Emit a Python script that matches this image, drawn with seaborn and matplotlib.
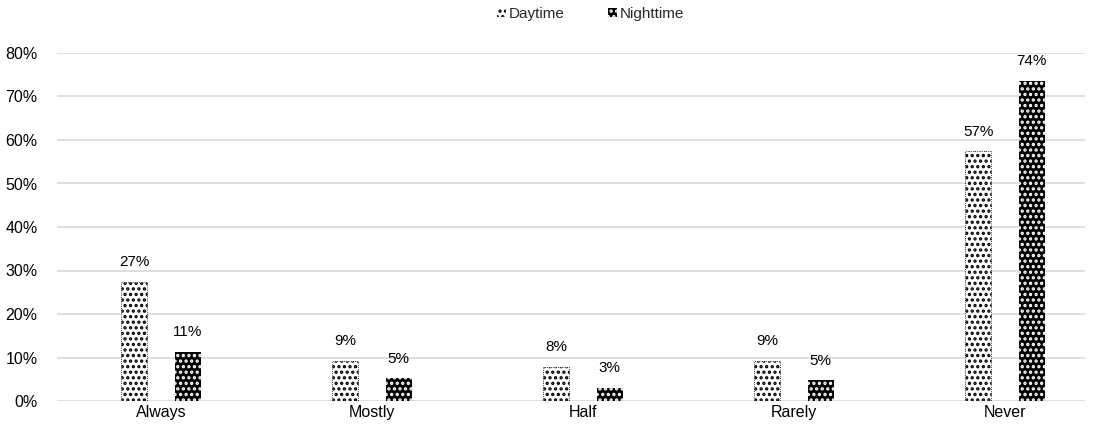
import matplotlib
matplotlib.use("Agg")
import matplotlib.pyplot as plt
import seaborn as sns
import pandas as pd
from matplotlib.patches import Patch

categories = ["Always", "Mostly", "Half", "Rarely", "Never"]
daytime = [27.4, 9.3, 7.9, 9.3, 57.4]
nighttime = [11.3, 5.2, 3.1, 4.8, 73.6]
series = ["Daytime", "Nighttime"]
yticks = [0, 10, 20, 30, 40, 50, 60, 70, 80]

df = pd.DataFrame({
    "cat": categories * 2,
    "val": daytime + nighttime,
    "series": [series[0]] * len(categories) + [series[1]] * len(categories),
})

sns.set_theme(style="white")
plt.rcParams["font.family"] = ["Liberation Sans", "DejaVu Sans"]
plt.rcParams["hatch.linewidth"] = 1.6

fig = plt.figure(figsize=(10.94, 4.33), dpi=100)
ax = fig.add_axes([57 / 1094, 1 - 401 / 433, (1085 - 57) / 1094, (401 - 53) / 433])

sns.barplot(data=df, x="cat", y="val", hue="series", order=categories,
            hue_order=series, width=0.508, gap=0.515, ax=ax,
            palette=["white", "black"], legend=False, saturation=1)

n = len(categories)
for i, p in enumerate(ax.patches[:2 * n]):
    if i < n:
        p.set_facecolor("white")
        p.set_edgecolor("black")
        p.set_hatch("...")
        p.set_linewidth(0.6)
        p.set_linestyle(":")
    else:
        p.set_facecolor("black")
        p.set_edgecolor("white")
        p.set_hatch("...")
        p.set_linewidth(0)

for cont in ax.containers:
    labels = [f"{v:.0f}%" for v in cont.datavalues]
    ax.bar_label(cont, labels=labels, padding=9, fontsize=11, color="black")

ax.set_ylim(0, 80)
ax.set_xlim(-0.493, 4.379)
ax.set_yticks(yticks)
ax.set_yticklabels([f"{t}%" for t in yticks])
ax.yaxis.grid(True, color="#d9d9d9", linewidth=1.2)
ax.set_axisbelow(True)
for s in ax.spines.values():
    s.set_visible(False)
ax.tick_params(axis="both", length=0, labelsize=11.5, colors="black")
ax.tick_params(axis="y", pad=14)
ax.tick_params(axis="x", pad=3)
ax.set_xlabel("")
ax.set_ylabel("")

handles = [
    Patch(facecolor="white", edgecolor="black", hatch="...", linewidth=0, label=series[0]),
    Patch(facecolor="black", edgecolor="white", hatch="...", linewidth=0, label=series[1]),
]
fig.legend(handles=handles, loc="center", bbox_to_anchor=(0.54, 1 - 14 / 433),
           ncol=2, frameon=False, fontsize=11, handlelength=0.6, handleheight=0.6,
           handletextpad=0.2, columnspacing=2.8)

fig.savefig("out.png", dpi=100)
